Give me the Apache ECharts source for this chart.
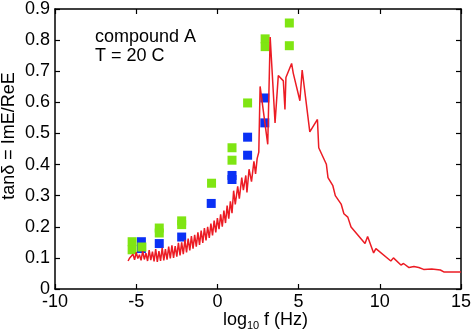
<!DOCTYPE html>
<html>
<head>
<meta charset="utf-8">
<script src="https://cdn.jsdelivr.net/npm/echarts@6/dist/echarts.min.js"></script>
<style>
html,body{margin:0;padding:0;background:#fff;}
#c{width:474px;height:333px;}
</style>
</head>
<body>
<div id="c"></div>
<script>
// ---- data ----
var xTicks = [-10, -5, 0, 5, 10, 15];
var yTicks = [0, 0.1, 0.2, 0.3, 0.4, 0.5, 0.6, 0.7, 0.8, 0.9];

var greenPts = [
  [-5.25, 0.152], [-5.25, 0.126], [-4.65, 0.135],
  [-3.58, 0.196], [-3.58, 0.180],
  [-2.20, 0.219], [-2.20, 0.207],
  [-0.36, 0.340],
  [0.90, 0.454], [0.90, 0.414],
  [1.86, 0.598],
  [2.94, 0.804], [2.94, 0.779],
  [4.43, 0.855], [4.43, 0.782]
];

var bluePts = [
  [-4.68, 0.152], [-4.68, 0.130],
  [-3.58, 0.146],
  [-2.20, 0.167],
  [-0.38, 0.275],
  [0.90, 0.365], [0.90, 0.352],
  [1.86, 0.488], [1.86, 0.430],
  [2.92, 0.614], [2.92, 0.534]
];

var redCurve = [
  [-5.5,0.090],[-5.4,0.100],[-5.3,0.095],[-5.2,0.112],[-5.1,0.094],[-5.0,0.118],
  [-4.9,0.098],[-4.8,0.110],[-4.7,0.092],[-4.6,0.122],[-4.5,0.095],[-4.4,0.115],
  [-4.3,0.090],[-4.2,0.125],[-4.1,0.093],[-4.0,0.120],[-3.9,0.089],[-3.8,0.128],
  [-3.7,0.087],[-3.6,0.122],[-3.5,0.090],[-3.4,0.132],[-3.3,0.092],[-3.2,0.128],
  [-3.1,0.094],[-3.0,0.136],[-2.9,0.098],[-2.8,0.140],[-2.7,0.100],[-2.6,0.138],
  [-2.5,0.104],[-2.4,0.148],[-2.3,0.108],[-2.2,0.150],[-2.1,0.112],[-2.0,0.158],
  [-1.9,0.118],[-1.8,0.162],[-1.7,0.124],[-1.6,0.170],[-1.5,0.130],[-1.4,0.174],
  [-1.3,0.136],[-1.2,0.182],[-1.1,0.142],[-1.0,0.188],[-0.9,0.148],[-0.8,0.196],
  [-0.7,0.156],[-0.6,0.200],[-0.5,0.164],[-0.4,0.210],[-0.3,0.172],[-0.2,0.220],
  [-0.1,0.182],[0.0,0.228],[0.1,0.192],[0.2,0.240],[0.3,0.200],[0.4,0.252],
  [0.5,0.212],[0.6,0.268],[0.7,0.226],[0.8,0.282],[0.9,0.244],[1.0,0.316],
  [1.1,0.272],[1.25,0.330],[1.35,0.290],[1.5,0.358],[1.6,0.318],[1.75,0.365],
  [1.82,0.310],[1.95,0.385],[2.1,0.345],[2.25,0.410],[2.35,0.370],[2.45,0.420],
  [2.55,0.440],[2.63,0.651],[3.1,0.465],[3.25,0.810],[3.55,0.534],[3.75,0.686],
  [4.06,0.669],[4.16,0.577],[4.22,0.680],[4.57,0.725],[4.67,0.694],[5.08,0.605],
  [5.22,0.704],[5.69,0.505],[6.16,0.545],[6.24,0.454],[6.71,0.401],[6.81,0.358],
  [7.11,0.332],[7.26,0.300],[7.62,0.273],[7.79,0.242],[8.03,0.231],[8.23,0.199],
  [9.09,0.146],[9.25,0.169],[9.62,0.116],[9.76,0.130],[10.68,0.090],[10.84,0.100],
  [11.3,0.077],[11.46,0.082],[11.8,0.069],[12.1,0.072],[12.4,0.069],[12.7,0.063],
  [13.2,0.064],[13.73,0.061],[13.94,0.055],[15.0,0.055]
];

var noteLines = ['compound A', 'T = 20 C'];

// ---- chart ----
var FONT = '"Liberation Sans", Arial, sans-serif';
var chart = echarts.init(document.getElementById('c'), null, {renderer: 'canvas'});

var axisLineStyle = {color: '#000', width: 1.5};
function mkX(pos, showLabels) {
  return {
    type: 'value', position: pos,
    min: xTicks[0], max: xTicks[xTicks.length - 1], interval: xTicks[1] - xTicks[0],
    axisLine: {show: true, onZero: false, lineStyle: axisLineStyle},
    axisTick: {show: true, inside: true, length: 5, lineStyle: {color: '#000', width: 1.2}},
    axisLabel: {show: showLabels, margin: 4, color: '#000', fontSize: 18, fontFamily: FONT},
    splitLine: {show: false}
  };
}
function mkY(pos, showLabels) {
  return {
    type: 'value', position: pos,
    min: yTicks[0], max: yTicks[yTicks.length - 1], interval: 0.1,
    axisLine: {show: true, onZero: false, lineStyle: axisLineStyle},
    axisTick: {show: true, inside: true, length: 5, lineStyle: {color: '#000', width: 1.2}},
    axisLabel: {show: showLabels, margin: 5, color: '#000', fontSize: 18, fontFamily: FONT,
      formatter: function (v) { return String(Math.round(v * 10) / 10); }},
    splitLine: {show: false}
  };
}

chart.setOption({
  animation: false,
  backgroundColor: '#fff',
  grid: {left: 55, right: 10, top: 7, bottom: 44, containLabel: false},
  xAxis: [mkX('bottom', true), mkX('top', false)],
  yAxis: [mkY('left', true), mkY('right', false)],
  series: [
    {type: 'scatter', data: bluePts, symbol: 'rect', symbolSize: 9,
     itemStyle: {color: '#0a30f5', opacity: 1}, z: 2},
    {type: 'scatter', data: greenPts, symbol: 'rect', symbolSize: 9,
     itemStyle: {color: '#7fe512', opacity: 1}, z: 3},
    {type: 'line', data: redCurve, showSymbol: false, symbol: 'none',
     lineStyle: {color: '#ec1c24', width: 1.5}, z: 4}
  ],
  graphic: [
    {type: 'text', left: 95, top: 28, style: {text: noteLines[0], font: '18px ' + FONT, fill: '#000'}},
    {type: 'text', left: 95, top: 47, style: {text: noteLines[1], font: '18px ' + FONT, fill: '#000'}},
    {type: 'text', x: 9, y: 136, rotation: Math.PI / 2,
     style: {text: 'tanδ = ImE/ReE', font: '18px ' + FONT, fill: '#000', align: 'center', verticalAlign: 'middle'}},
    {type: 'text', x: 223, y: 320,
     style: {text: 'log', font: '18px ' + FONT, fill: '#000', align: 'left', verticalAlign: 'middle'}},
    {type: 'text', x: 247, y: 326,
     style: {text: '10', font: '11px ' + FONT, fill: '#000', align: 'left', verticalAlign: 'middle'}},
    {type: 'text', x: 259, y: 320,
     style: {text: ' f (Hz)', font: '18px ' + FONT, fill: '#000', align: 'left', verticalAlign: 'middle'}}
  ]
});
</script>
</body>
</html>
